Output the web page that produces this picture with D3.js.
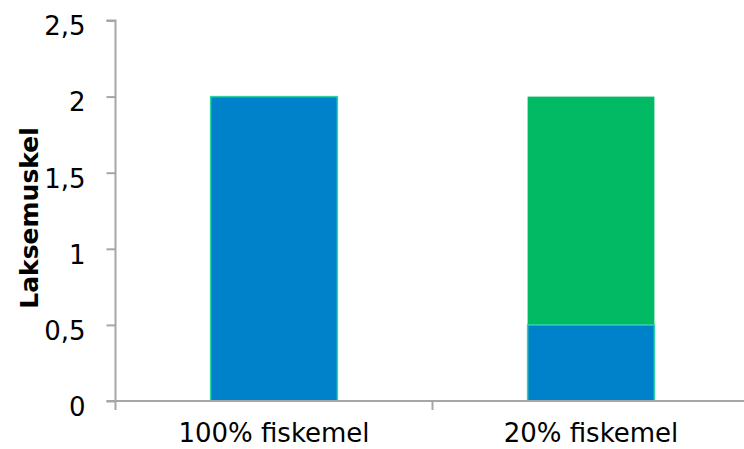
<!DOCTYPE html>
<html>
<head>
<meta charset="utf-8">
<script src="https://cdn.jsdelivr.net/npm/d3@7"></script>
<style>
body { margin: 0; background: #fff; }
svg { display: block; font-family: "DejaVu Sans", Verdana, sans-serif; }
</style>
</head>
<body>
<svg id="chart" width="744" height="449"></svg>
<script>
const categories = ["100% fiskemel", "20% fiskemel"];
const blueValues = [2, 0.5];
const greenValues = [0, 1.5];
const yTicks = [0, 0.5, 1, 1.5, 2, 2.5];
const yTitle = "Laksemuskel";

(function () {
const svg = d3.select("#chart");
const mLeft = 115.5, mRight = 749.5, mTop = 20.5, mBottom = 401;
const fontSize = "26px";

const x = d3.scaleBand().domain(categories).range([mLeft, mRight]).paddingInner(0).paddingOuter(0);
const y = d3.scaleLinear().domain([0, 2.5]).range([mBottom, mTop]);
const barW = x.bandwidth() * 0.4;
const fmt = d => String(d).replace(".", ",");

const data = categories.map((c, i) => ({c, blue: blueValues[i], green: greenValues[i]}));
svg.append("g").selectAll("rect").data(data.filter(d => d.green > 0)).join("rect")
  .attr("x", d => x(d.c) + (x.bandwidth() - barW) / 2)
  .attr("width", barW)
  .attr("y", d => y(d.blue + d.green))
  .attr("height", d => y(d.blue) - y(d.blue + d.green))
  .attr("fill", "#02B964");
svg.append("g").selectAll("rect").data(data).join("rect")
  .attr("x", d => x(d.c) + (x.bandwidth() - barW) / 2)
  .attr("width", barW)
  .attr("y", d => y(d.blue))
  .attr("height", d => y(0) - y(d.blue))
  .attr("fill", "#0082CA")
  .attr("stroke", "#2DD4A8")
  .attr("stroke-width", 1.5);

const axisColor = "#A6A6A6";

const yAxis = svg.append("g").attr("transform", `translate(${mLeft},0)`)
  .call(d3.axisLeft(y).tickValues(yTicks).tickFormat(fmt).tickSize(9).tickPadding(21));
yAxis.select(".domain").attr("stroke", axisColor).attr("stroke-width", 2)
  .attr("d", `M-9,${mTop}H0V${mBottom}`);
yAxis.selectAll(".tick line").attr("stroke", axisColor).attr("stroke-width", 2);
yAxis.selectAll(".tick text").attr("fill", "#000").style("font-size", fontSize)
  .attr("dy", "0.55em")
  .style("font-family", "'DejaVu Sans', Verdana, sans-serif");

const xAxis = svg.append("g").attr("transform", `translate(0,${mBottom})`);
xAxis.append("line").attr("x1", mLeft - 9).attr("x2", 744).attr("y1", 0).attr("y2", 0)
  .attr("stroke", axisColor).attr("stroke-width", 2);
const bounds = [mLeft].concat(categories.map(c => x(c) + x.bandwidth()));
xAxis.selectAll("line.tk").data(bounds).join("line").attr("class", "tk")
  .attr("x1", d => d).attr("x2", d => d).attr("y1", 0).attr("y2", 9)
  .attr("stroke", axisColor).attr("stroke-width", 2);
xAxis.selectAll("text").data(categories).join("text")
  .attr("x", d => x(d) + x.bandwidth() / 2)
  .attr("y", 41)
  .attr("text-anchor", "middle")
  .style("font-size", fontSize)
  .attr("fill", "#000")
  .text(d => d);

svg.append("text")
  .attr("transform", `translate(38,218) rotate(-90)`)
  .attr("text-anchor", "middle")
  .style("font-size", "25px")
  .style("font-weight", "bold")
  .attr("fill", "#000")
  .text(yTitle);
})();
</script>
</body>
</html>
